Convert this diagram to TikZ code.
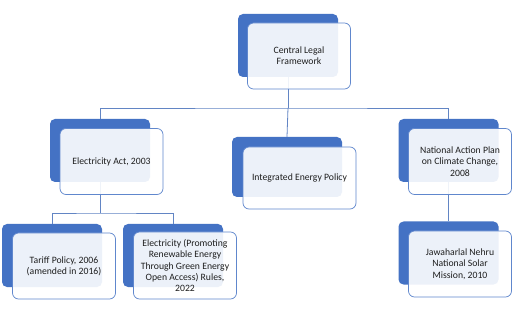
\documentclass[tikz,border=0pt]{standalone}
\usepackage{fontspec}
\setmainfont{Carlito}
\usetikzlibrary{positioning}
\definecolor{accblue}{RGB}{68,114,196}
\definecolor{linblue}{RGB}{98,133,196}
\definecolor{txtgray}{RGB}{30,30,30}
\tikzset{
  back/.style={fill=accblue, rounded corners=5pt, inner sep=0pt,
               minimum width=100pt, minimum height=63pt},
  front/.style={draw=accblue!85, line width=0.7pt, fill=white, fill opacity=0.9,
                text opacity=1, rounded corners=6pt, inner sep=0pt,
                minimum width=103pt, minimum height=66pt, align=center,
                text=txtgray, font=\fontsize{9.7}{11.3}\selectfont},
  conn/.style={linblue, line width=0.8pt},
}

\begin{document}
\begin{tikzpicture}[x=1pt, y=-1pt]
    \useasboundingbox[fill=white] (0,0) rectangle (512,326);
    % back plates
    \node[back] (clf-b) at (288,45.5) {};
    \node[back] (eact-b) at (100,150.5) {};
    \node[back, minimum width=110pt, minimum height=60pt] (iep-b) at (287,167) {};
    \node[back] (napcc-b) at (448.5,150.5) {};
    \node[back] (tariff-b) at (52,255.5) {};
    \node[back] (rules-b) at (173,255.5) {};
    \node[back] (jnnsm-b) at (448.5,253) {};
    % connectors
    \coordinate (bus1) at (288,108);
    \coordinate (bus2) at (100,213);
    \draw[conn] (clf-b.south) -- (bus1);
    \draw[conn] (eact-b.north) |- (bus1) -| (napcc-b.north);
    \draw[conn] (bus1) -- (iep-b.north);
    \draw[conn] (eact-b.south) -- (bus2);
    \draw[conn] (tariff-b.north) |- (bus2) -| (rules-b.north);
    \draw[conn] (napcc-b.south) -- (jnnsm-b.north);
    % front cards
    \node[front] (clf) at ([shift={(11,10.5)}]clf-b) {Central Legal\\Framework};
    \node[front] (eact) at ([shift={(11.5,11)}]eact-b) {Electricity Act, 2003};
    \node[front, minimum width=113pt, minimum height=62pt] (iep) at ([shift={(12.5,11)}]iep-b) {Integrated Energy Policy};
    \node[front] (napcc) at ([shift={(11.5,11)}]napcc-b) {National Action Plan\\on Climate Change,\\2008};
    \node[front] (tariff) at ([shift={(12,10.5)}]tariff-b) {Tariff Policy, 2006\\(amended in 2016)};
    \node[front, minimum height=67pt] (rules) at ([shift={(12,10)}]rules-b) {Electricity (Promoting\\Renewable Energy\\Through Green Energy\\Open Access) Rules,\\2022};
    \node[front] (jnnsm) at ([shift={(11.5,11)}]jnnsm-b) {Jawaharlal Nehru\\National Solar\\Mission, 2010};
  \end{tikzpicture}
\end{document}
